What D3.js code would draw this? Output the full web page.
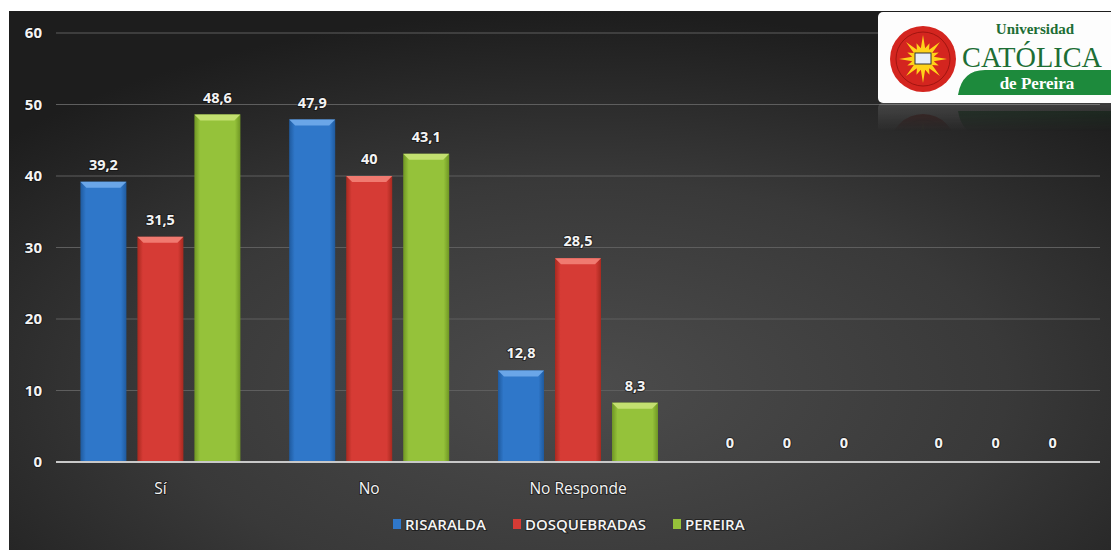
<!DOCTYPE html>
<html>
<head>
<meta charset="utf-8">
<script src="https://cdn.jsdelivr.net/npm/d3@7"></script>
<style>
  html, body { margin: 0; padding: 0; background: #fff; }
  svg { display: block; }
  .lbl { font-family: "Open Sans", sans-serif; fill: #f4f4f4; paint-order: stroke; stroke: #111; stroke-width: 2px; stroke-opacity: 0.6; }
</style>
</head>
<body>
<script>
const categories = ['Sí', 'No', 'No Responde', '', '']
const seriesNames = ['RISARALDA', 'DOSQUEBRADAS', 'PEREIRA']
const risaralda = [39.2, 47.9, 12.8, 0, 0]
const dosquebradas = [31.5, 40, 28.5, 0, 0]
const pereira = [48.6, 43.1, 8.3, 0, 0]
const yTicks = [0, 10, 20, 30, 40, 50, 60]
const colors = ['#2f77c9', '#d63b35', '#95c23a']
const lightColors = ['#6aa6e8', '#f07a70', '#c3e070']
const darkColors = ['#1f5a9e', '#a8291f', '#6f9624']

const size = { width: 1111, height: 550 }
const plot = { left: 56, right: 1100, top: 33, bottom: 462 }

const values = [risaralda, dosquebradas, pereira]

const svg = d3.select('body').append('svg')
  .attr('width', size.width)
  .attr('height', size.height)

const defs = svg.append('defs')
const bg = defs.append('radialGradient').attr('id', 'bg')
  .attr('cx', '52%').attr('cy', '70%').attr('r', '70%')
bg.append('stop').attr('offset', '0%').attr('stop-color', '#4c4c4c')
bg.append('stop').attr('offset', '55%').attr('stop-color', '#393939')
bg.append('stop').attr('offset', '100%').attr('stop-color', '#1d1d1d')

colors.forEach((c, i) => {
  const g = defs.append('linearGradient').attr('id', 'bar' + i)
    .attr('x1', '0%').attr('x2', '100%').attr('y1', '0%').attr('y2', '0%')
  g.append('stop').attr('offset', '0%').attr('stop-color', darkColors[i])
  g.append('stop').attr('offset', '12%').attr('stop-color', c)
  g.append('stop').attr('offset', '88%').attr('stop-color', c)
  g.append('stop').attr('offset', '100%').attr('stop-color', darkColors[i])
})

const refl = defs.append('linearGradient').attr('id', 'refl')
  .attr('x1', '0').attr('x2', '0').attr('y1', '0').attr('y2', '1')
refl.append('stop').attr('offset', '0%').attr('stop-color', '#fff').attr('stop-opacity', 0.25)
refl.append('stop').attr('offset', '100%').attr('stop-color', '#fff').attr('stop-opacity', 0)
defs.append('mask').attr('id', 'reflMask')
  .append('rect').attr('x', 870).attr('y', 103).attr('width', 241).attr('height', 28)
  .attr('fill', 'url(#refl)')

// background with white margin left / top
svg.append('rect')
  .attr('x', 9).attr('y', 11)
  .attr('width', size.width - 9).attr('height', size.height - 11)
  .attr('fill', 'url(#bg)')

const x = d3.scaleBand()
  .domain(d3.range(categories.length))
  .range([plot.left, plot.right])

const xs = d3.scaleBand()
  .domain(d3.range(seriesNames.length))
  .range([0, x.bandwidth()])
  .paddingInner(0.193)
  .paddingOuter(0.428)

const y = d3.scaleLinear()
  .domain([0, 60])
  .range([plot.bottom, plot.top])

// gridlines
svg.append('g').selectAll('line')
  .data(yTicks.filter(t => t > 0))
  .enter().append('line')
  .attr('x1', plot.left).attr('x2', plot.right)
  .attr('y1', d => y(d)).attr('y2', d => y(d))
  .attr('stroke', '#5e5e5e').attr('stroke-width', 1)

// y labels
svg.append('g').selectAll('text')
  .data(yTicks)
  .enter().append('text')
  .attr('class', 'lbl')
  .attr('x', 42).attr('y', d => y(d) + 5)
  .attr('text-anchor', 'end')
  .style('font-size', '15px').style('font-weight', 'bold')
  .text(d => d)

// bars
const fmt = v => String(v).replace('.', ',')
categories.forEach((cat, ci) => {
  const g = svg.append('g').attr('transform', 'translate(' + x(ci) + ',0)')
  values.forEach((vals, si) => {
    const v = vals[ci]
    const bx = xs(si), bw = xs.bandwidth(), top = y(v)
    if (v > 0) {
      g.append('rect')
        .attr('x', bx).attr('y', top)
        .attr('width', bw).attr('height', plot.bottom - top)
        .attr('fill', 'url(#bar' + si + ')')
      const cap = 6
      g.append('path')
        .attr('d', 'M' + bx + ',' + top + 'L' + (bx + bw) + ',' + top +
          'L' + (bx + bw - cap) + ',' + (top + cap) + 'L' + (bx + cap) + ',' + (top + cap) + 'Z')
        .attr('fill', lightColors[si])
    }
    g.append('text')
      .attr('class', 'lbl')
      .attr('x', bx + bw / 2)
      .attr('y', top - (v > 0 ? 12 : 14))
      .attr('text-anchor', 'middle')
      .style('font-size', '14.5px').style('font-weight', 'bold')
      .text(fmt(v))
  })
  if (cat) {
    svg.append('text')
      .attr('class', 'lbl')
      .attr('x', x(ci) + x.bandwidth() / 2)
      .attr('y', 494)
      .attr('text-anchor', 'middle')
      .style('font-size', '15.5px')
      .text(cat)
  }
})

// axis line
svg.append('line')
  .attr('x1', plot.left).attr('x2', plot.right)
  .attr('y1', plot.bottom).attr('y2', plot.bottom)
  .attr('stroke', '#c8c8c8').attr('stroke-width', 2)

// legend
const legendX = [393, 513, 673]
const legend = svg.append('g')
seriesNames.forEach((name, i) => {
  legend.append('rect')
    .attr('x', legendX[i]).attr('y', 519)
    .attr('width', 8).attr('height', 10)
    .attr('fill', colors[i])
  legend.append('text')
    .attr('class', 'lbl')
    .attr('x', legendX[i] + 12).attr('y', 530)
    .style('font-size', '15px').style('font-weight', '600')
    .text(name)
})

// logo
function drawLogo(parent, withText) {
  const lg = parent.append('g')
  lg.append('rect')
    .attr('x', 878).attr('y', 12).attr('width', 240).attr('height', 91)
    .attr('rx', 5).attr('fill', '#fdfdfd')
  lg.append('path')
    .attr('d', 'M958,95 Q962,70 985,70 L1111,70 L1111,95 Z')
    .attr('fill', '#1d8a3c')
  lg.append('circle').attr('cx', 923).attr('cy', 59).attr('r', 33).attr('fill', '#d4251f')
  lg.append('circle').attr('cx', 923).attr('cy', 59).attr('r', 27)
    .attr('fill', 'none').attr('stroke', '#a01510').attr('stroke-width', 1)
  const rays = d3.range(16).map(k => {
    const a = k / 16 * Math.PI * 2
    const r = k % 2 ? 17 : 24
    return [923 + Math.cos(a) * r, 59 + Math.sin(a) * r]
  })
  const star = []
  rays.forEach((p, k) => {
    const a = (k + 0.5) / 16 * Math.PI * 2
    star.push(p, [923 + Math.cos(a) * 11, 59 + Math.sin(a) * 11])
  })
  lg.append('path').attr('d', d3.line()(star) + 'Z').attr('fill', '#ffd21a')
  lg.append('circle').attr('cx', 923).attr('cy', 59).attr('r', 11).attr('fill', '#ffd21a')
  lg.append('rect').attr('x', 915).attr('y', 53).attr('width', 16).attr('height', 11)
    .attr('fill', '#e8eef8').attr('stroke', '#333').attr('stroke-width', 1)
  if (!withText) return lg
  lg.append('text').attr('x', 1035).attr('y', 34).attr('text-anchor', 'middle')
    .style('font-family', '"Liberation Serif", serif').style('font-weight', 'bold')
    .style('font-size', '15px').attr('fill', '#1d6e35').text('Universidad')
  lg.append('text').attr('x', 962).attr('y', 67)
    .attr('textLength', 140).attr('lengthAdjust', 'spacingAndGlyphs')
    .style('font-family', '"Liberation Serif", serif')
    .style('font-size', '30px').attr('fill', '#1d6e35').text('CATÓLICA')
  lg.append('text').attr('x', 1037).attr('y', 89).attr('text-anchor', 'middle')
    .style('font-family', '"Liberation Serif", serif').style('font-weight', 'bold')
    .style('font-size', '17px').attr('fill', '#ffffff').text('de Pereira')
  return lg
}
drawLogo(svg, true)
// faint mirrored reflection under the logo (shapes only)
const reflection = svg.append('g').attr('mask', 'url(#reflMask)')
drawLogo(reflection, false).attr('transform', 'translate(0,206) scale(1,-1)').attr('opacity', 0.6)
</script>
</body>
</html>
